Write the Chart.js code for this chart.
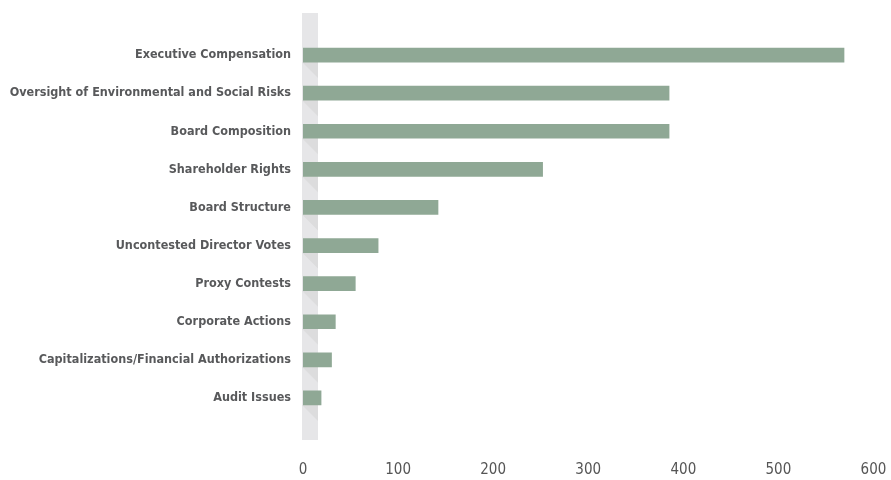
<!DOCTYPE html>
<html>
<head>
<meta charset="utf-8">
<script src="https://cdn.jsdelivr.net/npm/chart.js@4"></script>
<style>
  html, body { margin: 0; padding: 0; background: #fff; overflow: hidden; }
</style>
</head>
<body>
<canvas id="issuesChart" width="891" height="480"></canvas>
<script>
// proposal categories, top to bottom
const categories = [
    'Executive Compensation',
    'Oversight of Environmental and Social Risks',
    'Board Composition',
    'Shareholder Rights',
    'Board Structure',
    'Uncontested Director Votes',
    'Proxy Contests',
    'Corporate Actions',
    'Capitalizations/Financial Authorizations',
    'Audit Issues'
];
const counts = [569, 385, 385, 252, 142, 79, 55, 34, 30, 19];
const xTicks = [0, 100, 200, 300, 400, 500, 600];

const labelFont = "'Liberation Sans Narrow', 'DejaVu Sans Condensed', Roboto, sans-serif";

// grey stripe behind the bars near zero, with a little shadow under each bar
const stripePlugin = {
    id: 'stripe',
    beforeDatasetsDraw(chart) {
        const ctx = chart.ctx;
        const area = chart.chartArea;
        const left = chart.scales.x.getPixelForValue(0) - 1;
        const w = 16;
        ctx.save();
        ctx.fillStyle = '#e6e6e8';
        ctx.fillRect(left, area.top - 23, w, area.bottom - area.top + 46);
        ctx.fillStyle = '#dcdcdd';
        chart.getDatasetMeta(0).data.forEach(bar => {
            const bottom = bar.y + bar.height / 2;
            ctx.beginPath();
            ctx.moveTo(left, bottom);
            ctx.lineTo(left + w, bottom);
            ctx.lineTo(left + w, bottom + w);
            ctx.closePath();
            ctx.fill();
        });
        ctx.restore();
    }
};

const ctx = document.getElementById('issuesChart').getContext('2d');
new Chart(ctx, {
    type: 'bar',
    data: {
        labels: categories,
        datasets: [{
            data: counts,
            backgroundColor: '#8fa895',
            barThickness: 14
        }]
    },
    options: {
        indexAxis: 'y',
        responsive: false,
        animation: false,
        layout: { padding: { top: 36, right: 17.5, left: 0, bottom: 0 } },
        plugins: {
            legend: { display: false },
            tooltip: { enabled: false }
        },
        scales: {
            x: {
                min: 0,
                max: 600,
                afterBuildTicks: (scale) => {
                    scale.ticks = xTicks.map(v => ({ value: v }));
                },
                afterFit: (scale) => {
                    scale.height = 63;
                    scale.paddingLeft = 0;
                    scale.paddingRight = 0;
                },
                grid: { display: false },
                border: { display: false },
                ticks: {
                    padding: 36,
                    maxRotation: 0,
                    color: '#555555',
                    font: { family: labelFont, size: 15 }
                }
            },
            y: {
                afterFit: (scale) => { scale.width = 303; },
                grid: { display: false },
                border: { display: false },
                ticks: {
                    padding: 4,
                    color: '#58595b',
                    font: { family: labelFont, size: 12.5, weight: 'bold' }
                }
            }
        }
    },
    plugins: [stripePlugin]
});
</script>
</body>
</html>
